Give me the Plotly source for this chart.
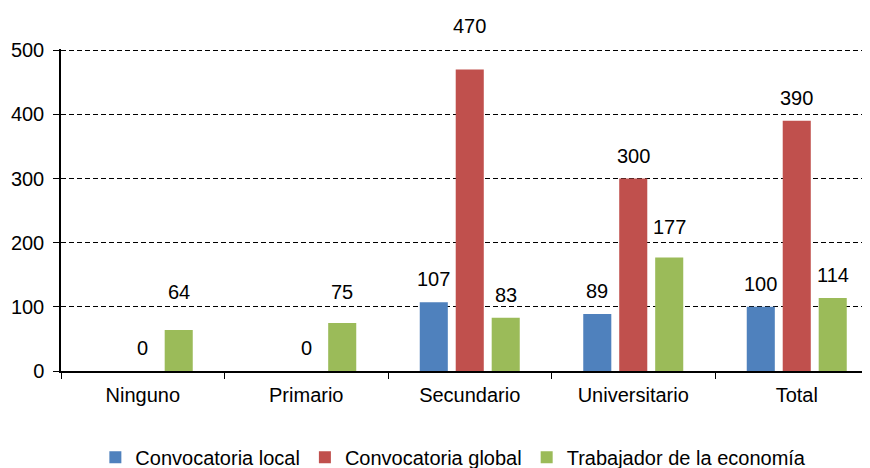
import plotly.graph_objects as go

# --- Data ---
categories = ["Ninguno", "Primario", "Secundario", "Universitario", "Total"]
series_names = ["Convocatoria local", "Convocatoria global", "Trabajador de la economía"]
local_vals = [None, None, 107, 89, 100]
global_vals = [0, 0, 470, 300, 390]
trabajador_vals = [64, 75, 83, 177, 114]

colors = ["#4F81BD", "#C0504D", "#9BBB59"]
font_family = "Liberation Sans, Arial, sans-serif"

fig = go.Figure()
all_series = [local_vals, global_vals, trabajador_vals]
for name, vals, col in zip(series_names, all_series, colors):
    fig.add_trace(go.Bar(
        x=categories, y=vals, name=name,
        marker=dict(color=col, line=dict(width=0)),
    ))

# data labels above each bar (offset per series inside the group)
shifts = [-36, 0, 36]
# a few labels were nudged further up in the original chart
extra_lift = {("Secundario", 1): 21, ("Ninguno", 2): 15, ("Primario", 2): 8,
              ("Universitario", 2): 7}
annotations = []
for s, (vals, dx) in enumerate(zip(all_series, shifts)):
    for cat, v in zip(categories, vals):
        if v is None:
            continue
        annotations.append(dict(
            x=cat, y=v, xref="x", yref="y", text=str(v), showarrow=False,
            xshift=dx, yshift=23 + extra_lift.get((cat, s), 0),
            font=dict(size=20, color="#000000", family=font_family),
        ))

# page body has an 8px margin, so the figure is sized to fit the window.
# The original plot area runs past the right edge of the image, so the
# category range is cut a little short of the last boundary.
fig.update_layout(
    width=862, height=460,
    margin=dict(l=53, r=0, t=41, b=97, autoexpand=False),
    paper_bgcolor="white", plot_bgcolor="white",
    barmode="group", bargap=0.34, bargroupgap=0.22,
    font=dict(family=font_family, size=20, color="#000000"),
    annotations=annotations,
    showlegend=True,
    legend=dict(orientation="h", x=0.485, xanchor="center", y=-0.207, yanchor="top",
                font=dict(size=20), itemwidth=30, traceorder="normal"),
)
fig.update_xaxes(
    range=[-0.5, 4.448],
    showline=True, linecolor="#000000", linewidth=1.5,
    ticks="outside", ticklen=6, tickcolor="#000000", tickson="boundaries",
    ticklabelstandoff=5, showgrid=False,
)
fig.update_yaxes(
    range=[0, 502], tickvals=[0, 100, 200, 300, 400, 500],
    showline=True, linecolor="#000000", linewidth=1.5,
    ticks="outside", ticklen=6, tickcolor="#000000", ticklabelstandoff=5,
    showgrid=True, gridcolor="#000000", griddash="5px,3px", gridwidth=1,
    zeroline=False,
)

fig.write_html("out.html")
